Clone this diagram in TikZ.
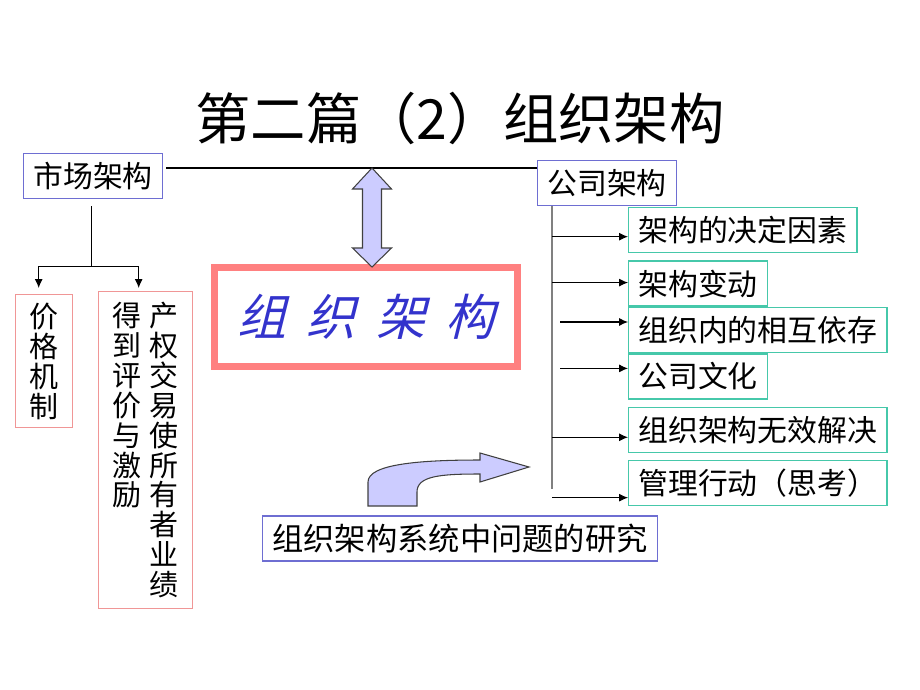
\documentclass[tikz,border=0pt]{standalone}
\usepackage{fontspec}
\newfontfamily\cjk{Noto Sans CJK SC}
\newfontfamily\handfont[FakeSlant=0.25]{Noto Sans CJK SC}
\usepackage{tikz}
\usetikzlibrary{
  arrows.meta,
  positioning,
  calc
}
\definecolor{frameblue}{RGB}{110,110,210}
\definecolor{framepink}{RGB}{240,150,150}
\definecolor{frameteal}{RGB}{70,200,170}
\definecolor{orgred}{RGB}{255,128,128}
\definecolor{lilac}{RGB}{204,204,255}
\definecolor{inkblue}{RGB}{51,51,204}
\tikzset{
  bluebox/.style={draw=frameblue, line width=0.8pt, anchor=north west,
    minimum height=0.9cm, inner xsep=5.5pt,
    font=\cjk\fontsize{17}{17}\selectfont},
  tealbox/.style={draw=frameteal, line width=0.8pt, anchor=north west,
    minimum height=0.9cm, inner xsep=5.5pt,
    font=\cjk\fontsize{17}{17}\selectfont},
  pinkbox/.style={draw=framepink, line width=0.8pt, anchor=north west,
    inner sep=0pt, font=\cjk\fontsize{16.5}{17}\selectfont},
  link/.style={line width=0.6pt},
  arr/.style={-{Latex[length=5pt,width=4.5pt]}, line width=0.6pt},
  spine/.style={draw=black!50, line width=1.2pt},
  bigarrow/.style={fill=lilac, draw=black!75, line width=0.6pt},
}
% one column of upright characters
\newcommand{\vtext}[1]{\parbox[t]{1em}{\centering\baselineskip=17pt\lineskiplimit=-20pt #1}}

\begin{document}
\begin{tikzpicture}[x=0.02cm, y=-0.02cm]
  \useasboundingbox (0,0) rectangle (920,690);

  % Title
  \node[font=\cjk\fontsize{31.5}{32}\selectfont] (title) at (460,118)
    {第二篇（2）组织架构};

  % Market side
  \node[bluebox] (mkt) at (23,153) {市场架构};
  \node[pinkbox, minimum width=1.14cm, minimum height=2.66cm] (price) at (15,294)
    {\vtext{价\\格\\机\\制}};
  \node[pinkbox, minimum width=1.88cm, minimum height=6.34cm] (prop) at (98,291)
    {\vtext{得\\到\\评\\价\\与\\激\\励}\hspace{4.5pt}\vtext{产\\权\\交\\易\\使\\所\\有\\者\\业\\绩}};

  % Company side
  \node[bluebox] (co) at (537,160) {公司架构};
  \node[tealbox] (f1) at (628,207) {架构的决定因素};
  \node[tealbox, below=0.14cm of f1.south west, anchor=north west] (f2) {架构变动};
  \node[tealbox, below=0pt of f2.south west, anchor=north west] (f3) {组织内的相互依存};
  \node[tealbox, below=0pt of f3.south west, anchor=north west] (f4) {公司文化};
  \node[tealbox, below=0.14cm of f4.south west, anchor=north west] (f5) {组织架构无效解决};
  \node[tealbox, below=0.14cm of f5.south west, anchor=north west] (f6) {管理行动（思考）};

  % Central box
  \node[draw=orgred, line width=4pt, minimum width=6.06cm, minimum height=1.98cm] (org) at (366,317)
    {\handfont\fontsize{28}{28}\selectfont\color{inkblue}组\hspace{11.5pt}织\hspace{11.5pt}架\hspace{11.5pt}构};

  % Bottom box
  \node[bluebox, anchor=center, font=\cjk\fontsize{17.8}{18}\selectfont] (study) at (460,538.5)
    {组织架构系统中问题的研究};

  % Market tree
  \draw[link] ($(mkt.north east)+(3,15)$) coordinate (top) -- (top -| co.west);
  \draw[link] ($(mkt.south)+(-2,7)$) -- ++(0,60) coordinate (mfork);
  \coordinate (pa) at ($(price.north)+(-5.5,-6)$);
  \coordinate (pb) at ($(prop.north)+(-7,-3)$);
  \draw[link] (pa |- mfork) -- (pb |- mfork);
  \draw[arr] (pa |- mfork) -- (pa);
  \draw[arr] (pb |- mfork) -- (pb);

  % Company tree
  \coordinate (sp) at ($(co.south west)+(15,0)$);
  \draw[spine] (sp) -- ++(0,283);
  \foreach \b/\dy/\dx in {f1/6.5/0, f2/-1/0, f3/-8/8, f4/-8/8, f5/7.5/0, f6/14.5/0}{
    \coordinate (\b-in) at ($(\b.west)+(0,\dy)$);
    \path (sp |- \b-in) coordinate (\b-out);
    \draw[arr] ($(\b-out)+(\dx,0)$) -- (\b-in);
  }

  % Block arrows
  \draw[bigarrow] (372,168) -- (391.5,189) -- (381.5,189) -- (381.5,248) -- (391.5,248)
    -- (372,267) -- (352.5,248) -- (362.5,248) -- (362.5,189) -- (352.5,189) -- cycle;
  \draw[bigarrow] (368,506) -- (368,482) .. controls (368,464) and (420,460) .. (480,460)
    -- (480,453) -- (529,467) -- (480,482) -- (480,474)
    .. controls (440,474) and (417,476) .. (417,492) -- (417,506) -- cycle;
\end{tikzpicture}
\end{document}
